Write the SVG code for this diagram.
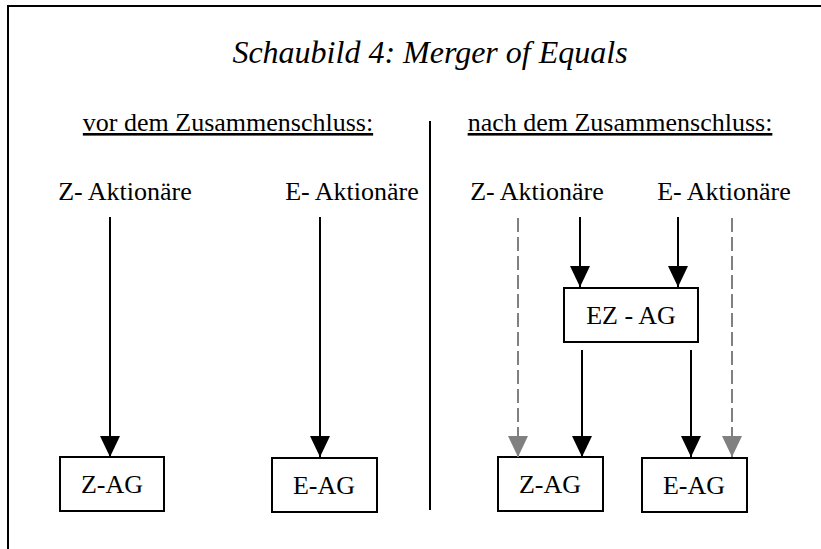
<svg xmlns="http://www.w3.org/2000/svg" width="821" height="549" viewBox="0 0 821 549">
<style>
text{font-family:"Liberation Serif","Times New Roman",serif;fill:#000;font-size:26px}
.title{font-size:32px;font-style:italic}
.sub{text-decoration:underline}
.box{fill:#fff;stroke:#000;stroke-width:2}
.ln{stroke:#000;stroke-width:2;fill:none}
.dash{stroke:#808080;stroke-width:2;fill:none;stroke-dasharray:14,5}
</style>
<defs>
<marker id="ah" markerUnits="userSpaceOnUse" markerWidth="21" markerHeight="20" refX="21" refY="10" orient="auto" viewBox="0 0 21 20">
<path d="M0,0 L21,10 L0,20 Z" fill="#000"/>
</marker>
<marker id="ahg" markerUnits="userSpaceOnUse" markerWidth="21" markerHeight="20" refX="21" refY="10" orient="auto" viewBox="0 0 21 20">
<path d="M0,0 L21,10 L0,20 Z" fill="#808080"/>
</marker>
</defs>
<rect x="0" y="0" width="821" height="549" fill="#fff"/>
<path d="M8,549 L8,6 L821,6" stroke="#000" stroke-width="2" fill="none"/>
<line x1="430" y1="121" x2="430" y2="510" stroke="#000" stroke-width="2"/>
<text class="title" x="430" y="63" text-anchor="middle">Schaubild 4: Merger of Equals</text>
<text class="sub" x="228" y="131" text-anchor="middle">vor dem Zusammenschluss:</text>
<text class="sub" x="620" y="131" text-anchor="middle">nach dem Zusammenschluss:</text>
<g id="z-akt-left"><text x="125" y="200" text-anchor="middle">Z- Aktionäre</text></g>
<g id="e-akt-left"><text x="352" y="200" text-anchor="middle">E- Aktionäre</text></g>
<g id="z-akt-right"><text x="537" y="200" text-anchor="middle">Z- Aktionäre</text></g>
<g id="e-akt-right"><text x="724" y="200" text-anchor="middle">E- Aktionäre</text></g>
<g id="zag-left"><rect class="box" x="60" y="457" width="104" height="54"/><text x="112" y="493" text-anchor="middle">Z-AG</text></g>
<g id="eag-left"><rect class="box" x="272" y="458" width="105" height="54"/><text x="324" y="494" text-anchor="middle">E-AG</text></g>
<g id="ezag"><rect class="box" x="564" y="288" width="134" height="54"/><text x="631" y="324" text-anchor="middle">EZ - AG</text></g>
<g id="zag-right"><rect class="box" x="498" y="457" width="105" height="54"/><text x="550" y="493" text-anchor="middle">Z-AG</text></g>
<g id="eag-right"><rect class="box" x="642" y="458" width="105" height="54"/><text x="694" y="494" text-anchor="middle">E-AG</text></g>
<g id="connectors">
<line class="ln" x1="110" y1="217" x2="110" y2="457" marker-end="url(#ah)"/>
<line class="ln" x1="320" y1="217" x2="320" y2="457" marker-end="url(#ah)"/>
<line class="ln" x1="580" y1="217" x2="580" y2="287" marker-end="url(#ah)"/>
<line class="ln" x1="678" y1="217" x2="678" y2="287" marker-end="url(#ah)"/>
<line class="ln" x1="582" y1="350" x2="582" y2="457" marker-end="url(#ah)"/>
<line class="ln" x1="691" y1="350" x2="691" y2="457" marker-end="url(#ah)"/>
<line class="dash" x1="518" y1="218" x2="518" y2="457" marker-end="url(#ahg)"/>
<line class="dash" x1="732" y1="218" x2="732" y2="457" marker-end="url(#ahg)"/>
</g>
</svg>
